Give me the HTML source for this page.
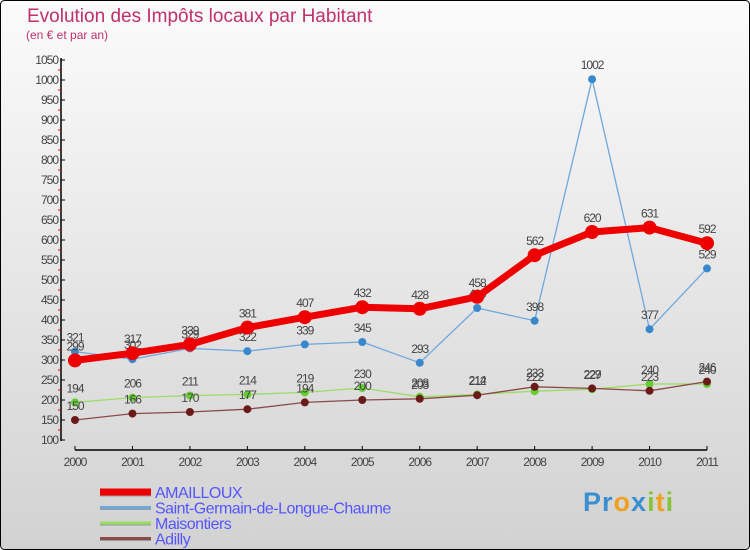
<!DOCTYPE html>
<html><head><meta charset="utf-8"><style>
body{margin:0;}
#wrap{width:750px;height:550px;position:relative;overflow:hidden;}
svg text{font-family:"Liberation Sans",sans-serif;}
</style></head><body>
<div id="wrap">
<svg id="chart" width="750" height="550" xmlns="http://www.w3.org/2000/svg">
<defs><linearGradient id="bg" x1="0" y1="0" x2="0" y2="1"><stop offset="0" stop-color="#fbfbfb"/><stop offset="1" stop-color="#d2d2d2"/></linearGradient></defs>
<rect x="0.5" y="0.5" width="749" height="549" fill="url(#bg)" stroke="#000" rx="4"/>
<text x="27" y="22" font-size="19" fill="#c0306a">Evolution des Impôts locaux par Habitant</text>
<text x="26" y="39" font-size="12" fill="#c0306a">(en € et par an)</text>
<g id="axes"></g><g id="series"></g><g id="legend"></g>
</svg></div>
<script>
const years=["2000","2001","2002","2003","2004","2005","2006","2007","2008","2009","2010","2011"];
const yTicks=[100,150,200,250,300,350,400,450,500,550,600,650,700,750,800,850,900,950,1000,1050];
const amailloux=[299,317,339,381,407,432,428,458,562,620,631,592];
const saintGermain=[321,302,329,322,339,345,293,430,398,1002,377,529];
const maisontiers=[194,206,211,214,219,230,208,214,222,227,240,240];
const adilly=[150,166,170,177,194,200,203,212,233,229,223,246];
const NS="http://www.w3.org/2000/svg";
const xS=i=>75+i*(707-75)/(years.length-1);
const yS=v=>440-(v-100)*0.4;
function mk(tag,attrs,parent){const e=document.createElementNS(NS,tag);for(const k in attrs)e.setAttribute(k,attrs[k]);parent.appendChild(e);return e;}
const axes=document.getElementById('axes');
const ya=mk('line',{x1:61,y1:58,x2:61,y2:441,stroke:'#000','stroke-width':1.5},axes);


yTicks.forEach(v=>{
 const y=yS(v);
 mk('line',{x1:61,y1:y,x2:65,y2:y,stroke:'#000'},axes);
 if(v<1050){const m=mk('line',{x1:58,y1:y-10,x2:61,y2:y-10,stroke:'#e00'},axes);}
 const t=mk('text',{x:58,y:y+4,'font-size':12,'text-anchor':'end',fill:'#444','letter-spacing':'-1'},axes);
 t.textContent=v;
 
 
});
const xa=mk('line',{x1:75,y1:450,x2:707,y2:450,stroke:'#000','stroke-width':1.5},axes);


years.forEach((yr,i)=>{
 const x=xS(i);
 mk('line',{x1:x,y1:446,x2:x,y2:450,stroke:'#000'},axes);
 const t=mk('text',{x:x,y:466,'font-size':12,'text-anchor':'middle',fill:'#444','letter-spacing':'-1'},axes);
 t.textContent=yr;
 
 
});
const series=[
 {name:'AMAILLOUX',key:'amailloux',data:amailloux,color:'#ee0000',w:7,r:7,fill:'#ee0000'},
 {name:'Saint-Germain-de-Longue-Chaume',key:'saint-germain',data:saintGermain,color:'#6fa8dc',w:1.3,r:4,fill:'#3a88cc'},
 {name:'Maisontiers',key:'maisontiers',data:maisontiers,color:'#99dd66',w:1.3,r:4,fill:'#66cc33'},
 {name:'Adilly',key:'adilly',data:adilly,color:'#8b4a4a',w:1.3,r:4,fill:'#6b1a1a'}
];
const sg=document.getElementById('series');
[1,2,3,0].forEach(si=>{
 const s=series[si];
 const g=mk('g',{},sg);
 
 
 const p=mk('polyline',{points:s.data.map((v,i)=>xS(i)+','+yS(v)).join(' '),fill:'none',stroke:s.color,'stroke-width':s.w,'stroke-linejoin':'round'},g);
 
 
 s.data.forEach((v,i)=>{
  const c=mk('circle',{cx:xS(i),cy:yS(v),r:s.r,fill:s.fill},g);
  
  
  const t=mk('text',{x:xS(i),y:yS(v)-10,'font-size':12,'text-anchor':'middle',fill:'#444','letter-spacing':'-1'},g);
  t.textContent=v;
  
  
 });
});
const lg=document.getElementById('legend');
series.forEach((s,i)=>{
 const y=492+i*15.5;
 const g=mk('g',{},lg);
 
 
 mk('line',{x1:100,y1:y+1,x2:151,y2:y+1,stroke:'#999','stroke-width':i==0?7:3},g);
 mk('line',{x1:100,y1:y,x2:151,y2:y,stroke:s.color,'stroke-width':i==0?7:3},g);
 const t=mk('text',{x:155,y:y+6,'font-size':16,fill:'#5555ff','letter-spacing':'-0.5'},g);
 t.textContent=s.name;
});
</script>
<div style="position:absolute;left:583px;top:487px;font:bold 27px 'Liberation Sans',sans-serif;letter-spacing:1px"><span style="color:#3a8fd0">Pr</span><span style="color:#f0a020">o</span><span style="color:#3a8fd0">x</span><span style="color:#88c43a">i</span><span style="color:#f0a020">t</span><span style="color:#88c43a">i</span></div>
</body></html>
